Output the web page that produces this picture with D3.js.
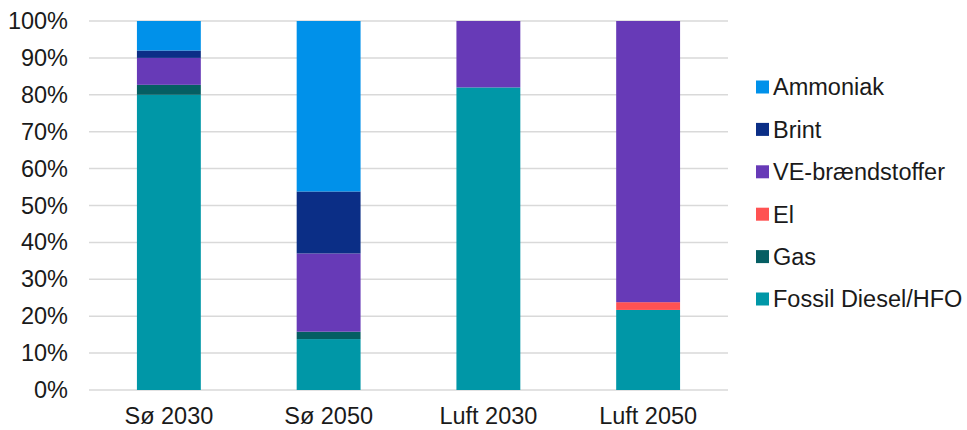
<!DOCTYPE html>
<html>
<head>
<meta charset="utf-8">
<script src="https://cdn.jsdelivr.net/npm/d3@7"></script>
<style>
  body { margin: 0; background: #fff; }
  text { font-family: "Liberation Sans", Arial, sans-serif; fill: #1a1a1a; }
</style>
</head>
<body>
<div id="chart"></div>
<script>
// categories and series (percent shares)
var categories = ["Sø 2030", "Sø 2050", "Luft 2030", "Luft 2050"];
var seriesNames = ["Fossil Diesel/HFO", "Gas", "El", "VE-brændstoffer", "Brint", "Ammoniak"];
var fossil    = [80, 13.8, 82, 21.7];
var gas       = [2.7, 2, 0, 0];
var el        = [0, 0, 0, 2.1];
var ve        = [7.3, 21.2, 18, 76.2];
var brint     = [2, 16.8, 0, 0];
var ammoniak  = [8, 46.2, 0, 0];
var colors    = ["#0097a7", "#055e63", "#ff5252", "#673ab7", "#0b2e86", "#0091ea"];
var yTicks    = [0, 10, 20, 30, 40, 50, 60, 70, 80, 90, 100];

var width = 967, height = 430;
var margin = {left: 89, right: 239, top: 21, bottom: 40};
var fontSize = "23.5px";

var svg = d3.select("#chart").append("svg")
  .attr("width", width).attr("height", height);

var table = categories.map(function(c, i) {
  return {cat: c, "Fossil Diesel/HFO": fossil[i], "Gas": gas[i], "El": el[i],
          "VE-brændstoffer": ve[i], "Brint": brint[i], "Ammoniak": ammoniak[i]};
});

var x = d3.scaleBand().domain(categories)
  .range([margin.left, width - margin.right]).paddingInner(0.6).paddingOuter(0.3);
var y = d3.scaleLinear().domain([0, 100]).range([height - margin.bottom, margin.top]);
var color = d3.scaleOrdinal().domain(seriesNames).range(colors);

// gridlines
svg.append("g").selectAll("line").data(yTicks).join("line")
  .attr("x1", margin.left).attr("x2", width - margin.right)
  .attr("y1", function(d){ return y(d); }).attr("y2", function(d){ return y(d); })
  .attr("stroke", "#d9d9d9").attr("stroke-width", 1.5);

// y axis labels
var yAxis = d3.axisLeft(y).tickValues(yTicks).tickSize(0).tickPadding(21)
  .tickFormat(function(d){ return d + "%"; });
svg.append("g").attr("transform", "translate(" + margin.left + ",0)").call(yAxis)
  .call(function(g){ g.select(".domain").remove(); })
  .selectAll("text").style("font-size", fontSize).attr("fill", "#1a1a1a");

// x axis labels
var xAxis = d3.axisBottom(x).tickSize(0).tickPadding(17);
svg.append("g").attr("transform", "translate(0," + y(0) + ")").call(xAxis)
  .call(function(g){ g.select(".domain").remove(); })
  .selectAll("text").style("font-size", fontSize).attr("fill", "#1a1a1a");

// stacked bars
var stack = d3.stack().keys(seriesNames)(table);
svg.append("g").selectAll("g").data(stack).join("g")
  .attr("fill", function(d){ return color(d.key); })
  .selectAll("rect").data(function(d){ return d; }).join("rect")
  .attr("x", function(d){ return x(d.data.cat); })
  .attr("width", x.bandwidth())
  .attr("y", function(d){ return y(d[1]); })
  .attr("height", function(d){ return y(d[0]) - y(d[1]); });

// legend (reverse order)
var legendNames = seriesNames.slice().reverse();
var legend = svg.append("g").selectAll("g").data(legendNames).join("g")
  .attr("transform", function(d, i){ return "translate(756," + (87 + i * 42.4) + ")"; });
legend.append("rect").attr("x", 0).attr("y", -6.5).attr("width", 13).attr("height", 13)
  .attr("fill", function(d){ return color(d); });
legend.append("text").attr("x", 17).attr("y", 0).attr("dy", "0.36em")
  .style("font-size", fontSize).text(function(d){ return d; });
</script>
</body>
</html>
